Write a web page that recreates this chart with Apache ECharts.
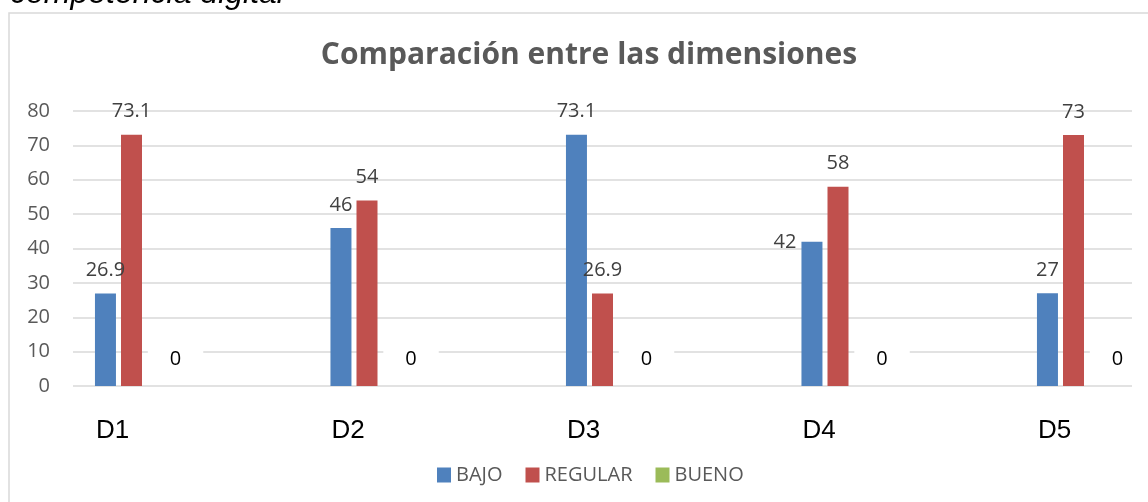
<!DOCTYPE html>
<html>
<head>
<meta charset="utf-8">
<script src="https://cdn.jsdelivr.net/npm/echarts@6/dist/echarts.min.js"></script>
<style>
  html, body { margin: 0; padding: 0; background: #fff; overflow: hidden; }
  /* the original chart runs past the right edge of the crop */
  #chart { width: 1220px; height: 502px; }
</style>
</head>
<body>
<div id="chart"></div>
<script>
// data
const dims = ['D1', 'D2', 'D3', 'D4', 'D5'];
const bajo = [26.9, 46, 73.1, 42, 27];
const regular = [73.1, 54, 26.9, 58, 73];
const bueno = [0, 0, 0, 0, 0];

const chart = echarts.init(document.getElementById('chart'));

const valueLabel = {
  show: true,
  position: 'top',
  distance: 13,
  fontFamily: 'Open Sans',
  fontSize: 20,
  color: '#404040'
};

// D4 "42" sits left of its bar in the original
const bajoData = bajo.map((v, i) => i === 3
  ? { value: v, label: { position: [-5, 1], align: 'right', verticalAlign: 'middle' } }
  : v);

const option = {
  animation: false,
  title: {
    text: 'Comparación entre las dimensiones',
    left: 584,
    textAlign: 'center',
    top: 35,
    textStyle: {
      fontFamily: 'Open Sans',
      fontSize: 30,
      fontWeight: 'bold',
      color: '#595959'
    }
  },
  graphic: [
    {
      type: 'rect',
      shape: { x: 9, y: 13, width: 1300, height: 700 },
      style: { fill: 'none', stroke: '#d9d9d9', lineWidth: 1.5 },
      silent: true
    },
    {
      type: 'text',
      left: 10,
      top: -22,
      style: {
        text: 'competencia digital',
        font: 'italic 32px "Liberation Sans", Arial',
        fill: '#000'
      },
      silent: true
    }
  ],
  legend: {
    left: 432,
    top: 460,
    itemWidth: 14,
    itemHeight: 15,
    itemGap: 23,
    icon: 'rect',
    textStyle: {
      fontFamily: 'Open Sans',
      fontSize: 20,
      color: '#595959'
    },
    data: ['BAJO', 'REGULAR', 'BUENO']
  },
  grid: [
    // bars
    { left: 13.75, width: 1177.5, top: 111, height: 275 },
    // value axis + gridlines
    { left: 73, width: 1059, top: 111, height: 275 }
  ],
  xAxis: [
    {
      type: 'category',
      gridIndex: 0,
      data: dims,
      axisLine: { show: false },
      axisTick: { show: false },
      axisLabel: {
        margin: 32,
        padding: [0, 38, 0, 0],
        fontFamily: 'Liberation Sans',
        fontSize: 26,
        color: '#000'
      }
    },
    {
      type: 'value',
      gridIndex: 1,
      min: 0,
      max: 1,
      show: false
    }
  ],
  yAxis: [
    {
      type: 'value',
      gridIndex: 0,
      min: 0,
      max: 80,
      show: false
    },
    {
      type: 'value',
      gridIndex: 1,
      min: 0,
      max: 80,
      interval: 10,
      axisLine: { show: false },
      axisTick: { show: false },
      axisLabel: {
        margin: 23,
        fontFamily: 'Open Sans',
        fontSize: 20,
        color: '#595959'
      },
      splitLine: { lineStyle: { color: '#d9d9d9', width: 1.5 } }
    }
  ],
  series: [
    {
      name: 'BAJO',
      type: 'bar',
      xAxisIndex: 0,
      yAxisIndex: 0,
      barWidth: 21,
      barGap: '24%',
      itemStyle: { color: '#4f81bd' },
      label: valueLabel,
      data: bajoData
    },
    {
      name: 'REGULAR',
      type: 'bar',
      xAxisIndex: 0,
      yAxisIndex: 0,
      barWidth: 21,
      barGap: '24%',
      itemStyle: { color: '#c0504d' },
      label: valueLabel,
      data: regular
    },
    {
      name: 'BUENO',
      type: 'bar',
      xAxisIndex: 0,
      yAxisIndex: 0,
      barWidth: 21,
      barGap: '24%',
      itemStyle: { color: '#9bbb59' },
      label: {
        show: true,
        position: 'top',
        distance: 1,
        offset: [18, 0],
        fontFamily: 'Open Sans',
        fontSize: 20,
        lineHeight: 20,
        color: '#000',
        backgroundColor: '#fff',
        padding: [16, 22, 16, 22]
      },
      data: bueno
    }
  ]
};

chart.setOption(option);
</script>
</body>
</html>
